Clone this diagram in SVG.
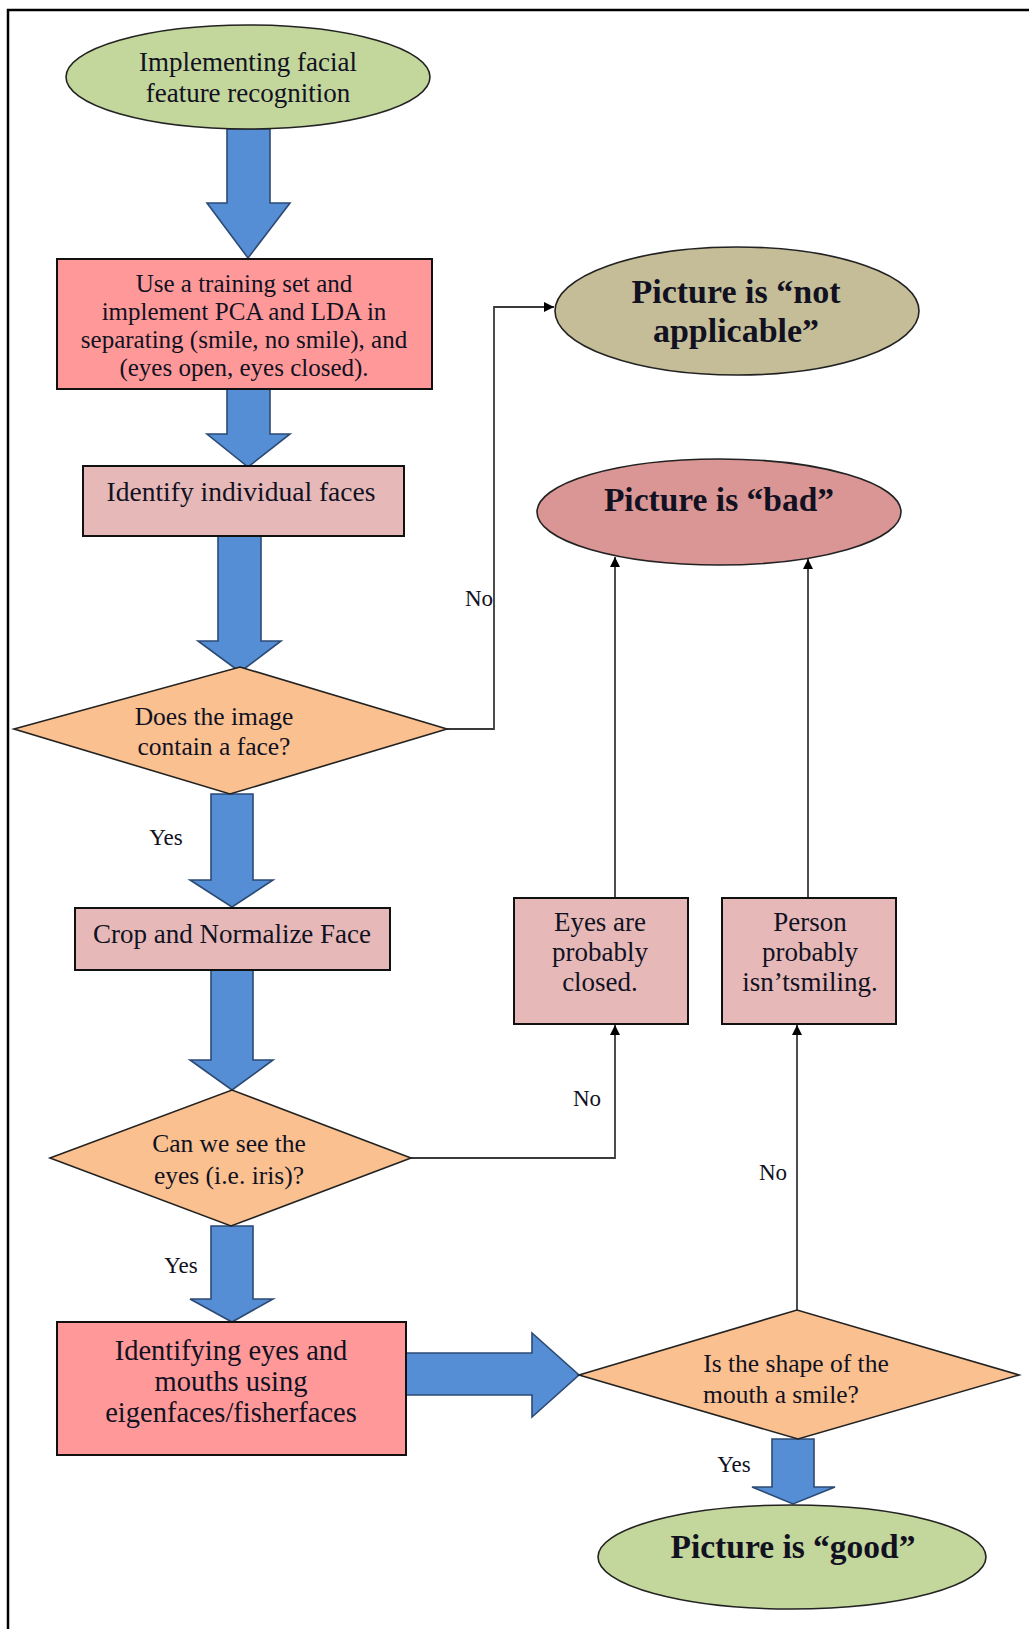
<svg xmlns="http://www.w3.org/2000/svg" width="1029" height="1629" viewBox="0 0 1029 1629">
<defs>
<style>
text{font-family:"Liberation Serif","Times New Roman",serif;fill:#111122;text-anchor:middle}
.b{font-weight:bold}
.lbl{font-size:23px}
.shape{stroke:#222;stroke-width:1.6}
.box{stroke:#111;stroke-width:2}
.blk{fill:#558ed5;stroke:#2c4a74;stroke-width:1.6;stroke-linejoin:miter}
.con{fill:none;stroke:#3a3a3a;stroke-width:1.8}
</style>
<marker id="ah" viewBox="0 0 10 10" refX="10" refY="5" markerWidth="10" markerHeight="10" markerUnits="userSpaceOnUse" orient="auto">
<path d="M0,0 L10,5 L0,10 Z" fill="#000"/>
</marker>
</defs>
<rect width="1029" height="1629" fill="#fff"/>
<path d="M8,1629 V10 H1029" fill="none" stroke="#000" stroke-width="2.5"/>

<g id="connectors">
<path class="blk" d="M227,129 H270 V203 H290 L248,258 L207,203 H227 Z"/>
<path class="blk" d="M227,389 H270 V434 H290 L248,467 L207,434 H227 Z"/>
<path class="blk" d="M218,536 H261 V641 H281 L240,672 L198,641 H218 Z"/>
<path class="blk" d="M211,794 H253 V880 H273 L232,907 L190,880 H211 Z"/>
<path class="blk" d="M211,970 H253 V1060 H273 L232,1090 L190,1060 H211 Z"/>
<path class="blk" d="M211,1226 H253 V1299 H273 L232,1322 L190,1299 H211 Z"/>
<path class="blk" d="M406,1353 H532 V1333 L579,1375 L532,1417 V1395 H406 Z"/>
<path class="blk" d="M772,1439 H814 V1487 H835 L793,1504 L752,1487 H772 Z"/>
<path class="con" d="M447,729 H494 V307 H554" marker-end="url(#ah)"/>
<path class="con" d="M615,898 V557" marker-end="url(#ah)"/>
<path class="con" d="M808,898 V559" marker-end="url(#ah)"/>
<path class="con" d="M411,1158 H615 V1025" marker-end="url(#ah)"/>
<path class="con" d="M797,1310 V1025" marker-end="url(#ah)"/>
<text class="lbl" x="493" y="606" style="text-anchor:end">No</text>
<text class="lbl" x="166" y="845">Yes</text>
<text class="lbl" x="601" y="1106" style="text-anchor:end">No</text>
<text class="lbl" x="787" y="1180" style="text-anchor:end">No</text>
<text class="lbl" x="181" y="1273">Yes</text>
<text class="lbl" x="734" y="1472">Yes</text>
</g>

<g id="start">
<ellipse class="shape" cx="248" cy="77" rx="182" ry="52" fill="#c3d69b"/>
<text x="248" y="71" font-size="27">Implementing facial</text>
<text x="248" y="102" font-size="27">feature recognition</text>
</g>

<g id="training">
<rect class="box" x="57" y="259" width="375" height="130" fill="#ff9999"/>
<text x="244" y="292" font-size="25">Use a training set and</text>
<text x="244" y="320" font-size="25">implement PCA and LDA in</text>
<text x="244" y="348" font-size="25">separating (smile, no smile), and</text>
<text x="244" y="376" font-size="25">(eyes open, eyes closed).</text>
</g>

<g id="identify">
<rect class="box" x="83" y="466" width="321" height="70" fill="#e6b9b8" stroke="#333"/>
<text x="241" y="501" font-size="27.5">Identify individual faces</text>
</g>

<g id="containsface">
<polygon class="shape" points="14,729 240,667 447,729 230,794" fill="#fac090"/>
<text x="214" y="725" font-size="25.5">Does the image</text>
<text x="214" y="755" font-size="25.5">contain a face?</text>
</g>

<g id="crop">
<rect class="box" x="75" y="908" width="315" height="62" fill="#e6b9b8"/>
<text x="232" y="943" font-size="27">Crop and Normalize Face</text>
</g>

<g id="seeeyes">
<polygon class="shape" points="50,1158 232,1090 411,1158 231,1226" fill="#fac090"/>
<text x="229" y="1152" font-size="25.5">Can we see the</text>
<text x="229" y="1184" font-size="25.5">eyes (i.e. iris)?</text>
</g>

<g id="identifying">
<rect class="box" x="57" y="1322" width="349" height="133" fill="#ff9999"/>
<text x="231" y="1360" font-size="28.5">Identifying eyes and</text>
<text x="231" y="1391" font-size="28.5">mouths using</text>
<text x="231" y="1422" font-size="28.5">eigenfaces/fisherfaces</text>
</g>

<g id="smileshape">
<polygon class="shape" points="579,1375 797,1310 1019,1375 798,1439" fill="#fac090"/>
<text x="796" y="1372" font-size="25.5">Is the shape of the</text>
<text x="781" y="1403" font-size="25.5">mouth a smile?</text>
</g>

<g id="notapplicable">
<ellipse class="shape" cx="737" cy="311" rx="182" ry="64" fill="#c4bd97"/>
<text class="b" x="736" y="303" font-size="34">Picture is “not</text>
<text class="b" x="736" y="342" font-size="34">applicable”</text>
</g>

<g id="bad">
<ellipse class="shape" cx="719" cy="512" rx="182" ry="53" fill="#d99694"/>
<text class="b" x="719" y="511" font-size="33.5">Picture is “bad”</text>
</g>

<g id="eyesclosed">
<rect class="box" x="514" y="898" width="174" height="126" fill="#e6b9b8"/>
<text x="600" y="931" font-size="27">Eyes are</text>
<text x="600" y="961" font-size="27">probably</text>
<text x="600" y="991" font-size="27">closed.</text>
</g>

<g id="notsmiling">
<rect class="box" x="722" y="898" width="174" height="126" fill="#e6b9b8"/>
<text x="810" y="931" font-size="27">Person</text>
<text x="810" y="961" font-size="27">probably</text>
<text x="810" y="991" font-size="27">isn’tsmiling.</text>
</g>

<g id="good">
<ellipse class="shape" cx="792" cy="1557" rx="194" ry="52" fill="#c3d69b"/>
<text class="b" x="793" y="1558" font-size="33.5">Picture is “good”</text>
</g>
</svg>
